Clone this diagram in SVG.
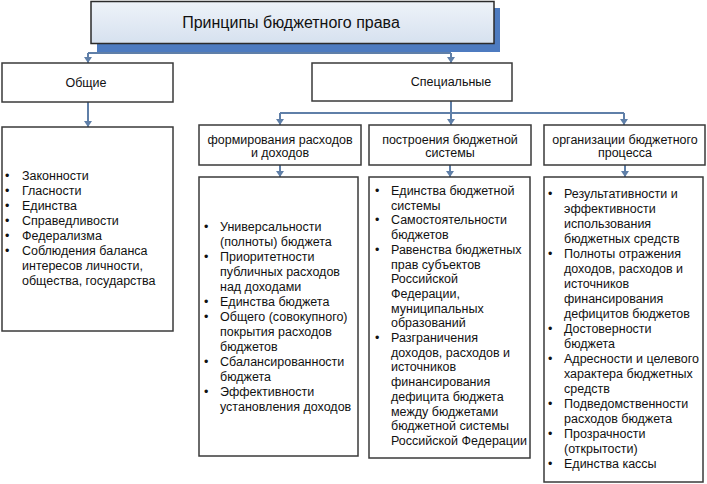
<svg xmlns="http://www.w3.org/2000/svg" width="707" height="484" viewBox="0 0 707 484">
<style>
.box{fill:#fff;stroke:#3a3a3a;stroke-width:1.5}
.con{fill:none;stroke:#5f7fa8;stroke-width:2}
.arr{marker-end:url(#ar)}
text{font-family:"Liberation Sans",Arial,sans-serif;fill:#111}
.h{font-size:12.5px;text-anchor:middle}
.l{font-size:12.5px}
</style>
<defs>
<marker id="ar" viewBox="0 0 6 8" refX="6" refY="4" markerWidth="6" markerHeight="8" orient="auto" markerUnits="userSpaceOnUse">
<path d="M0,0 L6,4 L0,8 Z" fill="#5f7fa8"/>
</marker>
<linearGradient id="tg" x1="0" y1="0" x2="0" y2="1">
<stop offset="0" stop-color="#eef3f9"/>
<stop offset="1" stop-color="#d6e1ef"/>
</linearGradient>
</defs>

<g id="connectors">
<path class="con" d="M291,52 V53 M88,53 H451"/>
<path class="con arr" d="M88,53 V63"/>
<path class="con arr" d="M451,53 V63"/>
<path class="con arr" d="M88,102 V127"/>
<path class="con" d="M451,101 V113 M280,113 H624"/>
<path class="con arr" d="M280,113 V125"/>
<path class="con arr" d="M451,113 V125"/>
<path class="con arr" d="M624,113 V125"/>
<path class="con arr" d="M280,165 V177"/>
<path class="con arr" d="M450,165 V177"/>
<path class="con arr" d="M625,165 V177"/>
</g>

<g id="title">
<rect x="97" y="8" width="403" height="44" fill="#4d7bc0"/>
<rect x="91" y="1.5" width="403" height="42" fill="url(#tg)" stroke="#2b2b2b" stroke-width="1.5"/>
<text x="291" y="28" font-size="16" text-anchor="middle">Принципы бюджетного права</text>
</g>

<g id="obshchie">
<rect class="box" x="2" y="63" width="171" height="39"/>
<text class="h" x="86" y="87" font-size="13">Общие</text>
</g>

<g id="spetsialnye">
<rect class="box" x="312" y="63" width="200" height="38"/>
<text class="h" x="451" y="86" font-size="13">Специальные</text>
</g>

<g id="obshchie-list">
<rect class="box" x="2" y="127" width="171" height="204"/>
<g class="l">
<text x="5" y="180">•</text><text x="22" y="180">Законности</text>
<text x="5" y="195">•</text><text x="22" y="195">Гласности</text>
<text x="5" y="210">•</text><text x="22" y="210">Единства</text>
<text x="5" y="225">•</text><text x="22" y="225">Справедливости</text>
<text x="5" y="240">•</text><text x="22" y="240">Федерализма</text>
<text x="5" y="255">•</text><text x="22" y="255">Соблюдения баланса</text>
<text x="22" y="270">интересов личности,</text>
<text x="22" y="285">общества, государства</text>
</g>
</g>

<g id="formirovaniya">
<rect class="box" x="199" y="125" width="162" height="40"/>
<text class="h" x="280" y="144">формирования расходов</text>
<text class="h" x="280" y="157">и доходов</text>
</g>

<g id="postroeniya">
<rect class="box" x="369" y="125" width="162" height="40"/>
<text class="h" x="450" y="144">построения бюджетной</text>
<text class="h" x="450" y="157">системы</text>
</g>

<g id="organizatsii">
<rect class="box" x="544" y="125" width="161" height="40"/>
<text class="h" x="625" y="144">организации бюджетного</text>
<text class="h" x="625" y="157">процесса</text>
</g>

<g id="formirovaniya-list">
<rect class="box" x="199" y="177" width="159" height="279"/>
<g class="l">
<text x="204" y="231">•</text><text x="220" y="231">Универсальности</text>
<text x="220" y="246">(полноты) бюджета</text>
<text x="204" y="261">•</text><text x="220" y="261">Приоритетности</text>
<text x="220" y="276">публичных расходов</text>
<text x="220" y="291">над доходами</text>
<text x="204" y="306">•</text><text x="220" y="306">Единства бюджета</text>
<text x="204" y="321">•</text><text x="220" y="321">Общего (совокупного)</text>
<text x="220" y="336">покрытия расходов</text>
<text x="220" y="351">бюджетов</text>
<text x="204" y="366">•</text><text x="220" y="366">Сбалансированности</text>
<text x="220" y="381">бюджета</text>
<text x="204" y="396">•</text><text x="220" y="396">Эффективности</text>
<text x="220" y="411">установления доходов</text>
</g>
</g>

<g id="postroeniya-list">
<rect class="box" x="369" y="177" width="161" height="281"/>
<g class="l">
<text x="375" y="195">•</text><text x="391" y="195">Единства бюджетной</text>
<text x="391" y="209.7">системы</text>
<text x="375" y="224.4">•</text><text x="391" y="224.4">Самостоятельности</text>
<text x="391" y="239.1">бюджетов</text>
<text x="375" y="253.8">•</text><text x="391" y="253.8">Равенства бюджетных</text>
<text x="391" y="268.5">прав субъектов</text>
<text x="391" y="283.2">Российской</text>
<text x="391" y="297.9">Федерации,</text>
<text x="391" y="312.6">муниципальных</text>
<text x="391" y="327.3">образований</text>
<text x="375" y="342">•</text><text x="391" y="342">Разграничения</text>
<text x="391" y="356.7">доходов, расходов и</text>
<text x="391" y="371.4">источников</text>
<text x="391" y="386.1">финансирования</text>
<text x="391" y="400.8">дефицита бюджета</text>
<text x="391" y="415.5">между бюджетами</text>
<text x="391" y="430.2">бюджетной системы</text>
<text x="391" y="444.9">Российской Федерации</text>
</g>
</g>

<g id="organizatsii-list">
<rect class="box" x="544" y="177" width="159" height="305"/>
<g class="l">
<text x="548" y="198">•</text><text x="564" y="198">Результативности и</text>
<text x="564" y="213">эффективности</text>
<text x="564" y="228">использования</text>
<text x="564" y="243">бюджетных средств</text>
<text x="548" y="258">•</text><text x="564" y="258">Полноты отражения</text>
<text x="564" y="273">доходов, расходов и</text>
<text x="564" y="288">источников</text>
<text x="564" y="303">финансирования</text>
<text x="564" y="318">дефицитов бюджетов</text>
<text x="548" y="333">•</text><text x="564" y="333">Достоверности</text>
<text x="564" y="348">бюджета</text>
<text x="548" y="363">•</text><text x="564" y="363">Адресности и целевого</text>
<text x="564" y="378">характера бюджетных</text>
<text x="564" y="393">средств</text>
<text x="548" y="408">•</text><text x="564" y="408">Подведомственности</text>
<text x="564" y="423">расходов бюджета</text>
<text x="548" y="438">•</text><text x="564" y="438">Прозрачности</text>
<text x="564" y="453">(открытости)</text>
<text x="548" y="468">•</text><text x="564" y="468">Единства кассы</text>
</g>
</g>
</svg>
